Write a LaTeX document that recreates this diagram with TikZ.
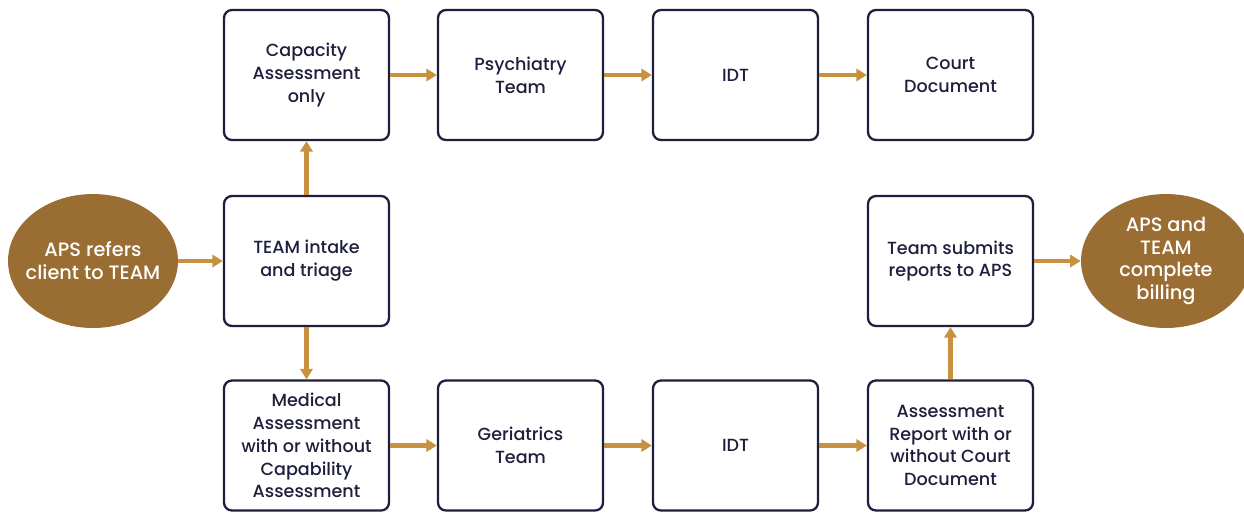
\documentclass[tikz,border=0pt]{standalone}
\usepackage{fontspec}
\setmainfont{Poppins}[UprightFont=* Medium]
\usetikzlibrary{arrows.meta,shapes.geometric}
\definecolor{navy}{HTML}{1E1F3D}
\definecolor{gold}{HTML}{C8913F}
\definecolor{bronze}{HTML}{9A6E33}
\begin{document}
\begin{tikzpicture}[x=0.02cm,y=-0.02cm,
  box/.style={draw=navy, line width=1.3pt, rounded corners=4.5pt, minimum width=3.3cm, minimum height=2.6cm, align=center, text=navy, font=\fontsize{10}{13}\selectfont, inner sep=0pt},
  oval/.style={ellipse, fill=bronze, minimum width=3.4cm, minimum height=2.68cm, text=white, align=center, font=\fontsize{11}{13}\selectfont, inner xsep=-7pt, inner ysep=0pt},
  arr/.style={draw=gold, line width=2.3pt, -{Triangle[width=7pt,length=6pt]}}]
\useasboundingbox (0,0) rectangle (1244,512);
\node[box] (cap) at (306.5,75) {Capacity\\Assessment\\only};
\node[box] (psy) at (520.5,75) {Psychiatry\\Team};
\node[box] (idt1) at (735.5,75) {IDT};
\node[box] (court) at (950.5,75) {Court\\Document};
\node[box] (intake) at (306.5,261) {TEAM intake\\and triage};
\node[box] (submit) at (950.5,261) {Team submits\\reports to APS};
\node[box] (med) at (306.5,445.5) {Medical\\Assessment\\with or without\\Capability\\Assessment};
\node[box] (ger) at (520.5,445.5) {Geriatrics\\Team};
\node[box] (idt2) at (735.5,445.5) {IDT};
\node[box] (rep) at (950.5,445.5) {Assessment\\Report with or\\without Court\\Document};
\node[oval] (aps) at (93,261) {APS refers\\client to TEAM};
\node[oval] (bill) at (1166,261) {APS and\\TEAM\\complete\\billing};
\draw[arr] (aps) -- (intake);
\draw[arr] (intake) -- (cap);
\draw[arr] (intake) -- (med);
\draw[arr] (cap) -- (psy);
\draw[arr] (psy) -- (idt1);
\draw[arr] (idt1) -- (court);
\draw[arr] (med) -- (ger);
\draw[arr] (ger) -- (idt2);
\draw[arr] (idt2) -- (rep);
\draw[arr] (rep) -- (submit);
\draw[arr] (submit) -- (bill);
\end{tikzpicture}
\end{document}
